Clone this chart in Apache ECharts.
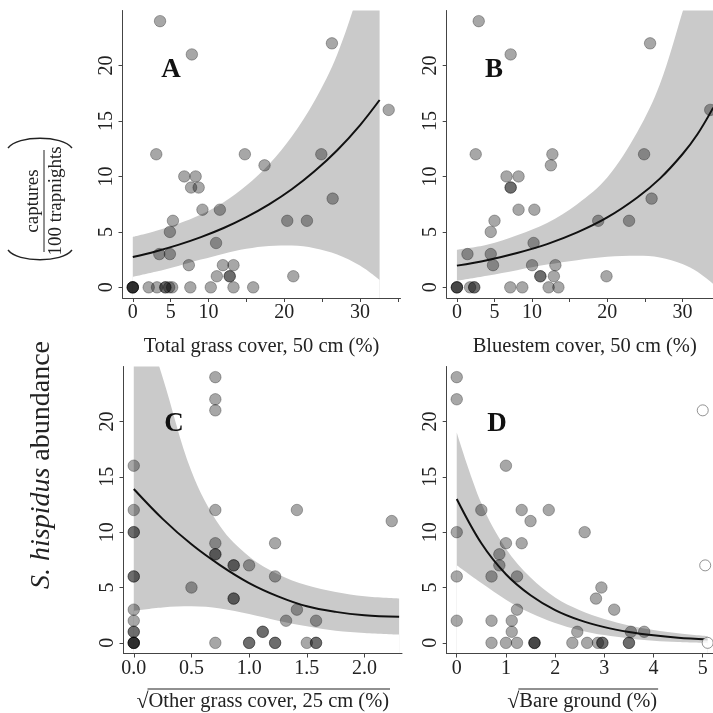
<!DOCTYPE html>
<html>
<head>
<meta charset="utf-8">
<script src="https://cdn.jsdelivr.net/npm/echarts@6/dist/echarts.min.js"></script>
<style>
html,body{margin:0;padding:0;background:#fff}
#chart{width:713px;height:713px}
</style>
</head>
<body>
<div id="chart"></div>
<script>
// ---- Axis ticks and labels ----
const yTicks = [0, 5, 10, 15, 20];
const coverTicks = [0, 5, 10, 15, 20, 25, 30, 35];
const coverLabels = [0, 5, 10, 20, 30];
const otherTicks = [0, 0.5, 1.0, 1.5, 2.0];
const bareTicks = [0, 1, 2, 3, 4, 5];

// ---- A: total grass cover, 50 cm (%) ----
const ptsA = [
  [0,0],[0,0],[0,0],[0,0],[2.1,0],[3.2,0],[4.3,0],[4.3,0],[4.8,0],[5.2,0],[7.6,0],[10.3,0],[13.3,0],[15.9,0],
  [11.1,1],[12.8,1],[12.8,1],[21.2,1],
  [7.4,2],[11.9,2],[13.3,2],
  [3.5,3],[4.9,3],
  [11.0,4],
  [4.9,5],
  [5.3,6],[20.4,6],[23.0,6],
  [9.2,7],[11.5,7],
  [26.4,8],
  [7.7,9],[8.7,9],
  [6.8,10],[8.3,10],
  [17.4,11],
  [3.1,12],[14.8,12],[24.9,12],
  [33.8,16],[7.8,21],[26.3,22],[3.6,24]
];
const fitXA = [0, 3, 6, 9, 12, 15, 18, 21, 24, 27, 30, 32.6];
const fitA  = [2.74, 3.24, 3.83, 4.53, 5.35, 6.33, 7.48, 8.84, 10.46, 12.36, 14.61, 16.89];
const loA   = [0.94, 1.40, 1.93, 2.50, 3.04, 3.47, 3.73, 3.77, 3.53, 2.96, 1.96, 0.66];
const hiA   = [4.54, 5.08, 5.73, 6.56, 7.67, 9.18, 11.1, 13.6, 16.8, 21.0, 27.0, 33.1];

// ---- B: bluestem cover, 50 cm (%) ----
const ptsB = [
  [0,0],[0,0],[0,0],[1.75,0],[2.3,0],[2.3,0],[7.1,0],[8.7,0],[12.2,0],[13.5,0],
  [11.1,1],[11.1,1],[12.9,1],[19.9,1],
  [4.8,2],[10.0,2],[13.1,2],
  [1.4,3],[4.5,3],
  [10.2,4],
  [4.5,5],
  [5.0,6],[18.8,6],[22.9,6],
  [8.2,7],[10.3,7],
  [25.9,8],
  [7.15,9],[7.15,9],
  [6.6,10],[8.2,10],
  [12.5,11],
  [2.5,12],[12.7,12],[24.9,12],
  [33.7,16],[7.15,21],[25.7,22],[2.9,24]
];
const fitXB = [0, 4, 8, 12, 16, 20, 24, 27, 30, 32, 34.1];
const fitB  = [1.96, 2.45, 3.1, 3.9, 4.95, 6.3, 8.1, 9.8, 12.0, 13.8, 16.2];
const loB   = [0.6, 1.05, 1.55, 2.05, 2.45, 2.75, 2.85, 2.7, 2.1, 1.4, 0.3];
const hiB   = [3.4, 3.85, 4.7, 5.8, 7.5, 9.9, 14.0, 18.3, 24.8, 29.5, 36];

// ---- C: sqrt other grass cover, 25 cm (%) ----
const ptsC = [
  [0,16],[0,12],[0,10],[0,10],[0,6],[0,6],[0,3],[0,2],[0,1],[0,1],[0,0],[0,0],[0,0],[0,0],
  [0.5,5],
  [0.707,24],[0.707,22],[0.707,21],[0.707,12],[0.707,9],[0.707,8],[0.707,8],[0.707,0],
  [0.866,7],[0.866,7],[0.866,4],[0.866,4],
  [1.0,7],[1.0,0],[1.0,0],
  [1.118,1],[1.118,1],
  [1.225,9],[1.225,6],[1.225,0],[1.225,0],
  [1.32,2],
  [1.414,12],[1.414,3],
  [1.5,0],
  [1.58,2],[1.58,0],[1.58,0],
  [2.236,11]
];
const fitXC = [0, 0.25, 0.5, 0.75, 1.0, 1.25, 1.5, 1.75, 2.0, 2.3];
const fitC  = [13.9, 11.2, 8.9, 7.0, 5.4, 4.2, 3.3, 2.8, 2.5, 2.35];
const loC   = [2.9, 3.2, 3.3, 3.1, 2.6, 2.0, 1.5, 1.1, 0.9, 0.75];
const hiC   = [32, 24, 15.5, 10.5, 7.8, 6.2, 5.2, 4.6, 4.2, 4.0];

// ---- D: sqrt bare ground (%) ----
const ptsD = [
  [0,24],[0,22],[0,10],[0,6],[0,2],
  [0.5,12],
  [0.707,6],[0.707,2],[0.707,0],
  [0.866,8],[0.866,7],
  [1.0,16],[1.0,9],[1.0,0],
  [1.118,2],[1.118,1],
  [1.225,6],[1.225,3],[1.225,0],
  [1.32,12],[1.32,9],
  [1.5,11],
  [1.58,0],[1.58,0],[1.58,0],
  [1.87,12],
  [2.35,0],[2.45,1],
  [2.6,10],[2.65,0],
  [2.83,4],[2.87,0],[2.96,0],[2.96,0],[2.94,5],
  [3.2,3],
  [3.5,0],[3.5,0],[3.54,1],
  [3.81,1]
];
const openD = [[5.0,21],[5.05,7],[5.1,0]];
const fitXD = [0, 0.5, 1, 1.5, 2, 2.5, 3, 3.5, 4, 4.5, 5.1];
const fitD  = [13.0, 9.0, 6.2, 4.3, 2.96, 2.05, 1.42, 0.98, 0.68, 0.47, 0.30];
const loD   = [7.0, 5.4, 3.9, 2.7, 1.8, 1.15, 0.7, 0.4, 0.2, 0.08, 0.0];
const hiD   = [19.0, 12.6, 8.5, 5.9, 4.1, 2.95, 2.15, 1.56, 1.16, 0.86, 0.6];

// ---- Layout of the four panels ----
const SERIF = '"Liberation Serif", "Times New Roman", serif';
const INK = '#222';
const BAND = '#cacaca';
const panels = [
  {grid: {left: 122.5, top: 10.5, width: 278, height: 287.5}, xMin: -1.36, xMax: 35.36, ticks: coverTicks, labels: coverLabels, fmt: v => String(v), name: 'Total grass cover, 50 cm (%)', letter: 'A', pts: ptsA, fx: fitXA, fy: fitA, lo: loA, hi: hiA},
  {grid: {left: 446.7, top: 10.5, width: 276, height: 287.5}, xMin: -1.36, xMax: 35.36, ticks: coverTicks, labels: coverLabels, fmt: v => String(v), name: 'Bluestem cover, 50 cm (%)', letter: 'B', pts: ptsB, fx: fitXB, fy: fitB, lo: loB, hi: hiB},
  {grid: {left: 123.5, top: 366.5, width: 278.5, height: 287}, xMin: -0.089, xMax: 2.325, ticks: otherTicks, labels: otherTicks, fmt: v => v.toFixed(1), name: null, radical: 'Other grass cover, 25 cm (%)', letter: 'C', pts: ptsC, fx: fitXC, fy: fitC, lo: loC, hi: hiC},
  {grid: {left: 446.7, top: 366.5, width: 271, height: 287}, xMin: -0.204, xMax: 5.304, ticks: bareTicks, labels: bareTicks, fmt: v => String(v), name: null, radical: 'Bare ground (%)', letter: 'D', pts: ptsD, fx: fitXD, fy: fitD, lo: loD, hi: hiD}
];

const grids = [], xAxes = [], yAxes = [], series = [], graphics = [];
const axisLineStyle = {color: '#444', width: 1};

panels.forEach((p, i) => {
  grids.push(Object.assign({containLabel: false, outerBoundsMode: 'none'}, p.grid));
  xAxes.push({
    gridIndex: i, type: 'value', min: p.xMin, max: p.xMax, z: 10,
    splitLine: {show: false},
    axisLine: {show: true, onZero: false, lineStyle: axisLineStyle},
    axisTick: {show: true, inside: false, length: 4, lineStyle: axisLineStyle, customValues: p.ticks},
    axisLabel: {customValues: p.labels, formatter: p.fmt, color: INK, fontFamily: SERIF, fontSize: 20, margin: 5},
    name: p.name || '', nameLocation: 'middle', nameGap: 38,
    nameTextStyle: {color: INK, fontFamily: SERIF, fontSize: 20.5}
  });
  yAxes.push({
    gridIndex: i, type: 'value', min: -0.96, max: 24.96, z: 10,
    splitLine: {show: false},
    axisLine: {show: true, onZero: false, lineStyle: axisLineStyle},
    axisTick: {show: true, inside: false, length: 4, lineStyle: axisLineStyle, customValues: yTicks},
    axisLabel: {customValues: yTicks, rotate: 90, color: INK, fontFamily: SERIF, fontSize: 20, margin: 6}
  });

  // confidence band: grey area under the upper limit, then white area under the lower limit
  series.push({
    type: 'line', xAxisIndex: i, yAxisIndex: i, smooth: 0.35,
    symbol: 'none', silent: true, z: 1, clip: true,
    lineStyle: {width: 0, opacity: 0},
    areaStyle: {color: BAND, opacity: 1, origin: 'start'},
    data: p.fx.map((x, k) => [x, p.hi[k]])
  });
  series.push({
    type: 'line', xAxisIndex: i, yAxisIndex: i, smooth: 0.35,
    symbol: 'none', silent: true, z: 1.5, clip: true,
    lineStyle: {width: 0, opacity: 0},
    areaStyle: {color: '#fff', opacity: 1, origin: 'start'},
    data: p.fx.map((x, k) => [x, p.lo[k]])
  });
  // observations
  series.push({
    type: 'scatter', xAxisIndex: i, yAxisIndex: i, symbol: 'circle', symbolSize: 11.5, z: 3,
    itemStyle: {color: 'rgba(0,0,0,0.43)', borderColor: 'rgba(0,0,0,0.45)', borderWidth: 0.8},
    emphasis: {disabled: true},
    data: p.pts
  });
  // fitted curve
  series.push({
    type: 'line', xAxisIndex: i, yAxisIndex: i, smooth: 0.35, symbol: 'none', z: 4, clip: true,
    lineStyle: {color: '#111', width: 2},
    data: p.fx.map((x, k) => [x, p.fy[k]])
  });
});

// excluded observations in panel D (open circles)
series.push({
  type: 'scatter', xAxisIndex: 3, yAxisIndex: 3, symbol: 'circle', symbolSize: 11, z: 5,
  itemStyle: {color: '#fff', borderColor: '#777', borderWidth: 1},
  emphasis: {disabled: true},
  data: openD
});

// panel letters
const letterPos = [[171, 70], [494, 70], [174, 424], [497, 424]];
panels.forEach((p, i) => {
  graphics.push({
    type: 'text', x: letterPos[i][0], y: letterPos[i][1], silent: true, z: 100,
    style: {text: p.letter, font: 'bold 27px ' + SERIF, fill: '#111', align: 'center', verticalAlign: 'middle'}
  });
});

// square-root axis titles for panels C and D
const measureCtx = document.createElement('canvas').getContext('2d');
function textWidth(t, font) { measureCtx.font = font; return measureCtx.measureText(t).width; }
const nameFont = '20.5px ' + SERIF;
[2, 3].forEach(i => {
  const p = panels[i];
  const cx = p.grid.left + p.grid.width / 2;
  const cy = p.grid.top + p.grid.height + 48;
  const tw = textWidth(p.radical, nameFont);
  const rw = textWidth('\u221A', '22px ' + SERIF);
  const x0 = cx - (tw + rw) / 2;
  graphics.push({type: 'text', x: x0, y: cy + 1, silent: true, z: 100,
    style: {text: '\u221A', font: '22px ' + SERIF, fill: INK, align: 'left', verticalAlign: 'middle'}});
  graphics.push({type: 'text', x: x0 + rw, y: cy, silent: true, z: 100,
    style: {text: p.radical, font: nameFont, fill: INK, align: 'left', verticalAlign: 'middle'}});
  graphics.push({type: 'line', silent: true, z: 100,
    shape: {x1: x0 + rw - 1, y1: cy - 12.5, x2: x0 + rw + tw + 1, y2: cy - 12.5},
    style: {stroke: INK, lineWidth: 1.1}});
});

// shared y-axis title
graphics.push({type: 'text', x: 42, y: 465, rotation: Math.PI / 2, silent: true, z: 100,
  style: {text: '{i|S. hispidus} abundance', font: '28px ' + SERIF, fill: INK, align: 'center', verticalAlign: 'middle',
    rich: {i: {fontStyle: 'italic', fontSize: 28, fontFamily: SERIF, fill: INK}}}});
graphics.push({type: 'text', x: 33, y: 201, rotation: Math.PI / 2, silent: true, z: 100,
  style: {text: 'captures', font: '19px ' + SERIF, fill: INK, align: 'center', verticalAlign: 'middle'}});
graphics.push({type: 'text', x: 56, y: 201, rotation: Math.PI / 2, silent: true, z: 100,
  style: {text: '100 trapnights', font: '19px ' + SERIF, fill: INK, align: 'center', verticalAlign: 'middle'}});
graphics.push({type: 'line', silent: true, z: 100, shape: {x1: 44, y1: 150, x2: 44, y2: 252}, style: {stroke: INK, lineWidth: 1}});
graphics.push({type: 'bezierCurve', silent: true, z: 100,
  shape: {x1: 8, y1: 148, x2: 72, y2: 148, cpx1: 18, cpy1: 135, cpx2: 62, cpy2: 135},
  style: {stroke: INK, lineWidth: 1.4, fill: null}});
graphics.push({type: 'bezierCurve', silent: true, z: 100,
  shape: {x1: 8, y1: 250, x2: 72, y2: 250, cpx1: 18, cpy1: 263, cpx2: 62, cpy2: 263},
  style: {stroke: INK, lineWidth: 1.4, fill: null}});

const chart = echarts.init(document.getElementById('chart'), null, {renderer: 'canvas'});
chart.setOption({
  animation: false,
  backgroundColor: '#fff',
  grid: grids,
  xAxis: xAxes,
  yAxis: yAxes,
  series: series,
  graphic: graphics
});
</script>
</body>
</html>
